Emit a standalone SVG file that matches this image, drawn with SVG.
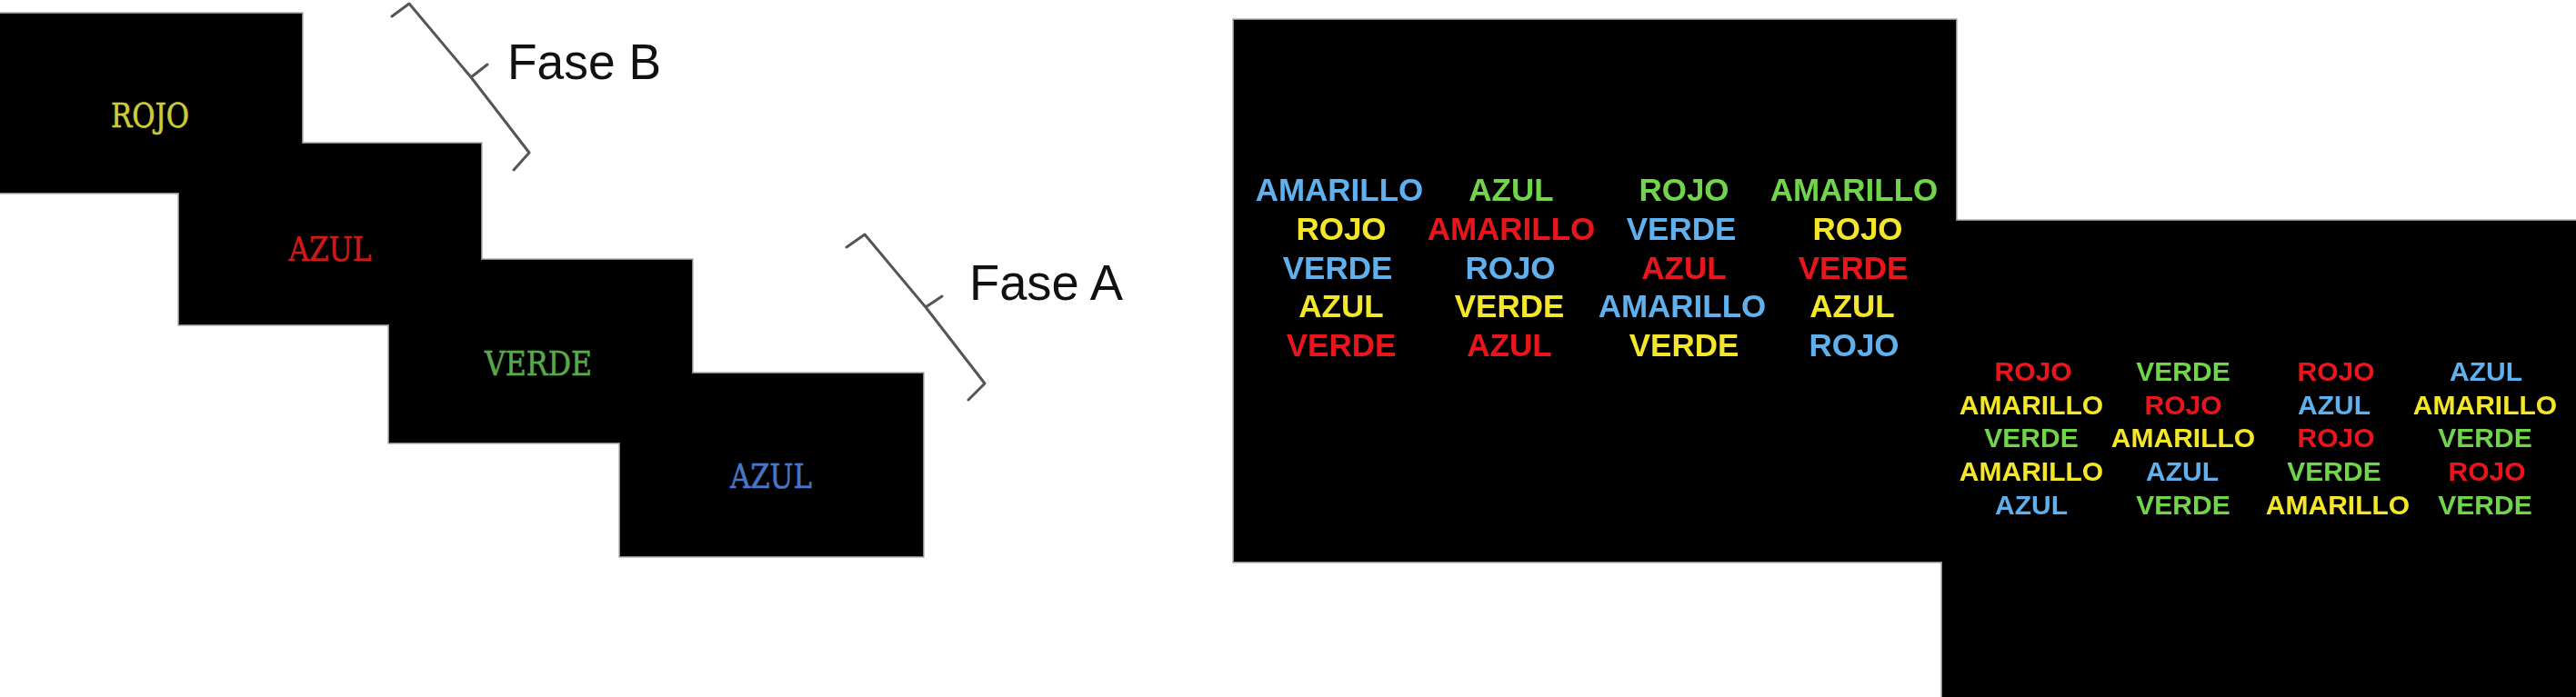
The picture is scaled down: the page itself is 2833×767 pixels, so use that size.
<svg xmlns="http://www.w3.org/2000/svg" width="2833" height="767" viewBox="0 0 2833 767">
<style>
.bg{fill:#ffffff}
.panel{fill:#000000}
.outline{fill:none;stroke:#8a8a8a;stroke-width:3}
.serifw{font-family:'DejaVu Serif Condensed','DejaVu Serif','Liberation Serif',serif;font-stretch:condensed;font-size:38px;text-anchor:middle}
.w1{font-family:'Liberation Sans',Arial,sans-serif;font-weight:bold;font-size:35px;text-anchor:middle}
.w2{font-family:'Liberation Sans',Arial,sans-serif;font-weight:bold;font-size:30px;text-anchor:middle}
.b{fill:#5fb0ec}.g{fill:#72d44c}.y{fill:#f4e62c}.r{fill:#e8161c}
.brace{fill:none;stroke:#555555;stroke-width:3;stroke-linejoin:round;stroke-linecap:round}
.label{font-family:'Liberation Sans',Arial,sans-serif;font-size:56px;fill:#111111}
</style>
<defs>
<filter id="soft" x="-5%" y="-20%" width="110%" height="140%"><feGaussianBlur stdDeviation="0.6"/></filter>
</defs>
<rect class="bg" x="0" y="0" width="2833" height="767"/>

<g id="left-outline">
<path class="outline" d="M0,15 L332,15 L332,158 L529,158 L529,286 L761,286 L761,411 L1015,411 L1015,612 L682,612 L682,487 L428,487 L428,357 L197,357 L197,212 L0,212 Z"/>
</g>
<g id="panel-rojo">
<rect class="panel" x="0" y="15" width="332" height="197"/>
<text class="serifw" x="165" y="140" fill="#cccc38" stroke="#cccc38" stroke-width="0.6" textLength="86" lengthAdjust="spacingAndGlyphs">ROJO</text>
</g>
<g id="panel-azul-1">
<rect class="panel" x="197" y="158" width="332" height="199"/>
<text class="serifw" x="363" y="287" fill="#cc1a1a" stroke="#cc1a1a" stroke-width="0.6" textLength="91" lengthAdjust="spacingAndGlyphs">AZUL</text>
</g>
<g id="panel-verde">
<rect class="panel" x="428" y="286" width="333" height="201"/>
<text class="serifw" x="592" y="413" fill="#5aa84c" stroke="#5aa84c" stroke-width="0.6" textLength="118" lengthAdjust="spacingAndGlyphs">VERDE</text>
</g>
<g id="panel-azul-2">
<rect class="panel" x="682" y="411" width="333" height="201"/>
<text class="serifw" x="848" y="537" fill="#4a76c6" stroke="#4a76c6" stroke-width="0.6" textLength="90" lengthAdjust="spacingAndGlyphs">AZUL</text>
</g>

<g id="connectors">
<path class="brace" d="M431,18 L450,4 L518,85 L582,168 L565,187 M518,85 L536,71"/>
<path class="brace" d="M931,272 L951,258 L1018,338 L1083,422 L1065,440 M1018,338 L1036,326"/>
</g>
<g id="label-fase-b"><text class="label" x="558" y="87" textLength="169" lengthAdjust="spacingAndGlyphs">Fase B</text></g>
<g id="label-fase-a"><text class="label" x="1066" y="330" textLength="169" lengthAdjust="spacingAndGlyphs">Fase A</text></g>

<g id="right-outline">
<path class="outline" d="M1357,22 L2151,22 L2151,243 L2833,243 L2833,767 L2136,767 L2136,618 L1357,618 Z"/>
</g>
<g id="panel-stroop-1">
<rect class="panel" x="1357" y="22" width="794" height="596"/>
<rect class="panel" x="2136" y="243" width="697" height="524"/>
<g filter="url(#soft)">
<text class="w1 b" x="1473" y="221">AMARILLO</text>
<text class="w1 g" x="1662" y="221">AZUL</text>
<text class="w1 g" x="1852" y="221">ROJO</text>
<text class="w1 g" x="2039" y="221">AMARILLO</text>
<text class="w1 y" x="1475" y="264">ROJO</text>
<text class="w1 r" x="1662" y="264">AMARILLO</text>
<text class="w1 b" x="1849" y="264">VERDE</text>
<text class="w1 y" x="2043" y="264">ROJO</text>
<text class="w1 b" x="1471" y="307">VERDE</text>
<text class="w1 b" x="1661" y="307">ROJO</text>
<text class="w1 r" x="1852" y="307">AZUL</text>
<text class="w1 r" x="2038" y="307">VERDE</text>
<text class="w1 y" x="1475" y="349">AZUL</text>
<text class="w1 y" x="1660" y="349">VERDE</text>
<text class="w1 b" x="1850" y="349">AMARILLO</text>
<text class="w1 y" x="2037" y="349">AZUL</text>
<text class="w1 r" x="1475" y="392">VERDE</text>
<text class="w1 r" x="1660" y="392">AZUL</text>
<text class="w1 y" x="1852" y="392">VERDE</text>
<text class="w1 b" x="2039" y="392">ROJO</text>
</g>
</g>
<g id="panel-stroop-2">
<g filter="url(#soft)">
<text class="w2 r" x="2236" y="419">ROJO</text>
<text class="w2 g" x="2401" y="419">VERDE</text>
<text class="w2 r" x="2569" y="419">ROJO</text>
<text class="w2 b" x="2734" y="419">AZUL</text>
<text class="w2 y" x="2234" y="456">AMARILLO</text>
<text class="w2 r" x="2401" y="456">ROJO</text>
<text class="w2 b" x="2567" y="456">AZUL</text>
<text class="w2 y" x="2733" y="456">AMARILLO</text>
<text class="w2 g" x="2234" y="492">VERDE</text>
<text class="w2 y" x="2401" y="492">AMARILLO</text>
<text class="w2 r" x="2569" y="492">ROJO</text>
<text class="w2 g" x="2733" y="492">VERDE</text>
<text class="w2 y" x="2234" y="529">AMARILLO</text>
<text class="w2 b" x="2400" y="529">AZUL</text>
<text class="w2 g" x="2567" y="529">VERDE</text>
<text class="w2 r" x="2735" y="529">ROJO</text>
<text class="w2 b" x="2234" y="566">AZUL</text>
<text class="w2 g" x="2401" y="566">VERDE</text>
<text class="w2 y" x="2571" y="566">AMARILLO</text>
<text class="w2 g" x="2733" y="566">VERDE</text>
</g>
</g>
</svg>
